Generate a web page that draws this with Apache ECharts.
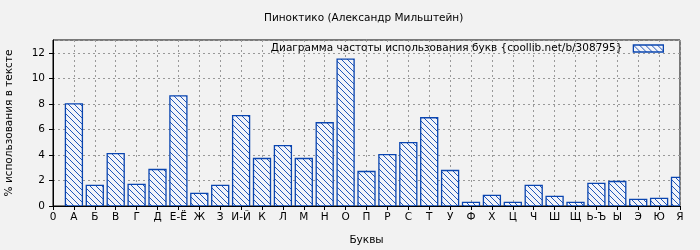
<!DOCTYPE html>
<html><head><meta charset="utf-8">
<script src="https://cdn.jsdelivr.net/npm/echarts@6/dist/echarts.min.js"></script>
<style>html,body{margin:0;padding:0;background:#f2f2f2}#c{width:700px;height:250px}</style>
</head><body><div id="c"></div>
<script>
var tickLabels = ['0','А','Б','В','Г','Д','Е-Ё','Ж','З','И-Й','К','Л','М','Н','О','П','Р','С','Т','У','Ф','Х','Ц','Ч','Ш','Щ','Ь-Ъ','Ы','Э','Ю','Я'];
var letters = ['А','Б','В','Г','Д','Е-Ё','Ж','З','И-Й','К','Л','М','Н','О','П','Р','С','Т','У','Ф','Х','Ц','Ч','Ш','Щ','Ь-Ъ','Ы','Э','Ю','Я'];
var values = [8.0,1.61,4.1,1.69,2.86,8.63,0.99,1.61,7.07,3.72,4.73,3.72,6.52,11.51,2.70,4.03,4.96,6.91,2.78,0.29,0.83,0.29,1.61,0.75,0.29,1.77,1.92,0.52,0.60,2.24];
var titleText = 'Пинoктико (Александр Мильштейн)';
var seriesName = 'Диаграмма частоты использования букв {coollib.net/b/308795}';
var xName = 'Буквы';
var yName = '% использования в тексте';

var blue = '#0a45b0';
var S = 6;
var pc = document.createElement('canvas');
pc.width = S; pc.height = S;
var g = pc.getContext('2d');
g.fillStyle = '#f2f4fa'; g.fillRect(0,0,S,S);
g.strokeStyle = blue; g.lineWidth = 0.9;
g.beginPath();
g.moveTo(-1,-1); g.lineTo(S+1,S+1);
g.moveTo(-1,S-1); g.lineTo(1,S+1);
g.moveTo(S-1,-1); g.lineTo(S+1,1);
g.stroke();
var pattern = {image: pc, repeat: 'repeat'};

var data = values.map(function(v,i){ return [i+1, v]; });
var font = 'DejaVu Sans';
var fs = 10.5;
var BAR_W = 17;
var chart = echarts.init(document.getElementById('c'), null, {renderer:'canvas'});
chart.setOption({
  backgroundColor: '#f2f2f2',
  animation: false,
  textStyle: {fontFamily: font},
  title: {text: titleText, left: 264, top: 13, padding: 0, textStyle: {fontSize: fs, fontWeight: 'normal', color: '#000', fontFamily: font}},
  legend: {data: [{name: seriesName, icon: 'rect'}], right: 36, top: 43, padding: 0, align: 'right', itemWidth: 30, itemHeight: 7, itemGap: 5,
    itemStyle: {color: pattern, borderColor: blue, borderWidth: 1.3},
    textStyle: {fontSize: fs, color: '#000', fontFamily: font, padding: [0, 6, 0, 0]}},
  grid: {left: 53, right: 20, top: 40, bottom: 44, outerBoundsMode: 'none', containLabel: false, show: true, borderColor: '#000', borderWidth: 1, backgroundColor: 'transparent'},
  xAxis: {type: 'value', min: 0, max: 30, interval: 1,
    name: xName, nameLocation: 'middle', nameGap: 29, nameTextStyle: {fontSize: fs, color: '#000', fontFamily: font},
    axisLine: {show: true, lineStyle: {color: '#000', width: 1}},
    axisTick: {show: true, length: 4, lineStyle: {color: '#000'}},
    axisLabel: {fontSize: fs, color: '#000', margin: 6, fontFamily: font, showMinLabel: true, showMaxLabel: true, hideOverlap: false,
      formatter: function(v){ return tickLabels[Math.round(v)] || ''; }},
    splitLine: {show: true, lineStyle: {color: '#999', type: [2,3], width: 1}}},
  yAxis: {type: 'value', min: 0, max: 13, interval: 2,
    name: yName, nameLocation: 'middle', nameGap: 38, nameRotate: 90, nameTextStyle: {fontSize: fs, color: '#000', fontFamily: font},
    axisLine: {show: true, lineStyle: {color: '#000', width: 1}},
    axisTick: {show: true, length: 4, lineStyle: {color: '#000'}},
    axisLabel: {fontSize: fs, color: '#000', margin: 8, fontFamily: font, showMaxLabel: false,
      formatter: function(v){ return v % 2 === 0 && v <= 12 ? String(v) : ''; }},
    splitLine: {show: true, lineStyle: {color: '#999', type: [2,3], width: 1}}},
  series: [{name: seriesName, type: 'custom', data: data, clip: true,
    itemStyle: {color: pattern, borderColor: blue, borderWidth: 1.3},
    encode: {x: 0, y: 1},
    renderItem: function(params, api){
      var x = api.value(0), y = api.value(1);
      var p0 = api.coord([x, 0]);
      var p1 = api.coord([x, y]);
      var cs = params.coordSys;
      var r = echarts.graphic.clipRectByRect(
        {x: p0[0] - BAR_W / 2, y: p1[1], width: BAR_W, height: p0[1] - p1[1]},
        {x: cs.x, y: cs.y, width: cs.width, height: cs.height});
      if (!r) return null;
      return {type: 'rect', shape: r, style: {fill: pattern, stroke: blue, lineWidth: 1.3}};
    }}]
});
</script></body></html>
